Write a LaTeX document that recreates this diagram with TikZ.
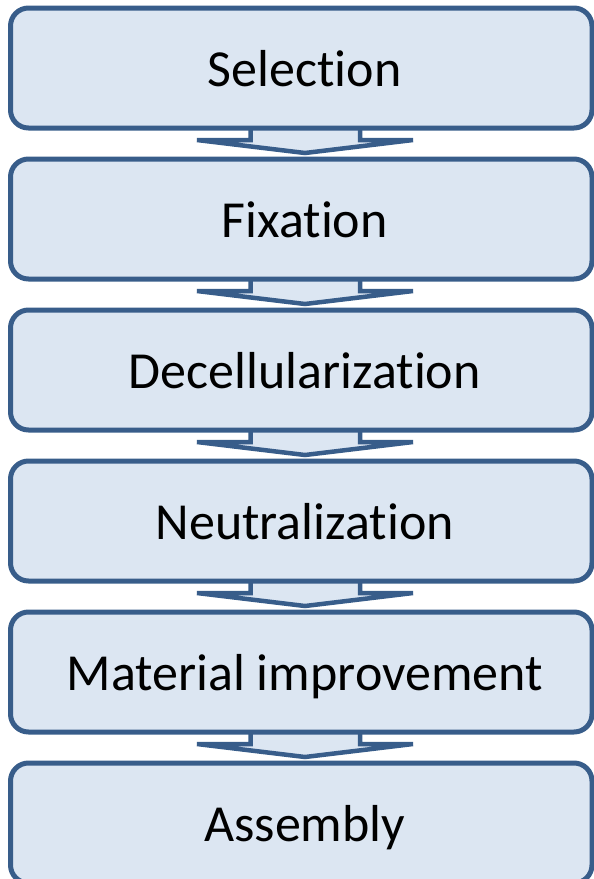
\documentclass[tikz,border=0pt]{standalone}
\usepackage{fontspec}
\setmainfont{Carlito}[Ligatures=NoCommon]
\usetikzlibrary{calc}
\definecolor{edgeblue}{RGB}{56,93,138}
\definecolor{fillblue}{RGB}{220,230,242}
\tikzset{
  stagebox/.style={draw=edgeblue, fill=fillblue, line width=5pt, rounded corners=18pt,
    minimum width=581.5pt, minimum height=120pt, inner sep=0pt, outer sep=0pt},
  stagetext/.style={font=\fontsize{52}{60}\selectfont, text height=37.4pt, text depth=0pt, inner sep=0pt},
  flowarrow/.style={draw=edgeblue, fill=fillblue, line width=4.5pt, line join=miter}
}
\newcommand{\flowarrowfrom}[1]{%
  \path[flowarrow] ($(#1.south)+(-50.75,-10)$) -- ($(#1.south)+(-50.75,12)$) -- ($(#1.south)+(-104.25,12)$)
    -- ($(#1.south)+(3.75,25)$) -- ($(#1.south)+(111.75,12)$) -- ($(#1.south)+(58.75,12)$)
    -- ($(#1.south)+(58.75,-10)$) -- cycle;}
\begin{document}
\begin{tikzpicture}[x=1pt,y=-1pt]
\useasboundingbox (0,0) rectangle (594,879);
\coordinate (c1) at (301.25,68);
\coordinate (c2) at (301.25,219);
\coordinate (c3) at (301.25,370);
\coordinate (c4) at (301.25,521);
\coordinate (c5) at (301.25,672);
\coordinate (c6) at (301.25,823);
\foreach \i in {1,...,6} {\node[minimum width=581.5pt, minimum height=120pt, inner sep=0pt, outer sep=0pt] (p\i) at (c\i) {};}
\flowarrowfrom{p1}
\flowarrowfrom{p2}
\flowarrowfrom{p3}
\flowarrowfrom{p4}
\flowarrowfrom{p5}
\node[stagebox] (b1) at (c1) {};
\node[stagebox] (b2) at (c2) {};
\node[stagebox] (b3) at (c3) {};
\node[stagebox] (b4) at (c4) {};
\node[stagebox] (b5) at (c5) {};
\node[stagebox] (b6) at (c6) {};
\node[stagetext] (t1) at ($(b1.center)+(3.5,0)$) {Selec\kern0pt t\kern0pt ion};
\node[stagetext] (t2) at ($(b2.center)+(3.5,0)$) {Fixat\kern0pt ion};
\node[stagetext] (t3) at ($(b3.center)+(3.5,0)$) {Decellularizat\kern0pt ion};
\node[stagetext] (t4) at ($(b4.center)+(3.5,0)$) {Neutralizat\kern0pt ion};
\node[stagetext] (t5) at ($(b5.center)+(3.5,0)$) {Material improvement};
\node[stagetext] (t6) at ($(b6.center)+(3.5,0)$) {Assembly};
\end{tikzpicture}
\end{document}
